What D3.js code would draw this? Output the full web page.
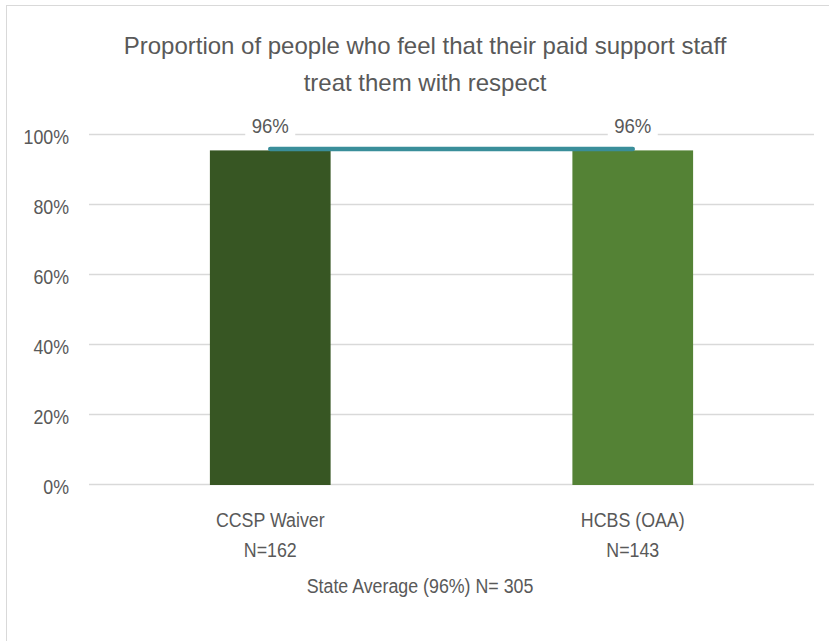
<!DOCTYPE html>
<html><head><meta charset="utf-8">
<script src="https://cdn.jsdelivr.net/npm/d3@7"></script>
<style>body{margin:0;background:#fff}svg{display:block}</style>
</head><body>
<script>
const categories = ["CCSP Waiver", "HCBS (OAA)"];
const sampleSizes = ["N=162", "N=143"];
const values = [0.956, 0.956];
const valueLabels = ["96%", "96%"];
const stateAverage = [0.96, 0.96];
const yTicks = [0, 0.2, 0.4, 0.6, 0.8, 1.0];
const titleLines = ["Proportion of people who feel that their paid support staff", "treat them with respect"];
const axisTitle = "State Average (96%) N= 305";
const barColors = ["#375623", "#548235"];

const W = 829, H = 641;
const font = "'Liberation Sans', Arial, sans-serif";
const txt = "#595959";
const SX = 0.89;
const svg = d3.select("body").append("svg").attr("width", W).attr("height", H);

svg.append("rect").attr("x", 6.5).attr("y", 5.5).attr("width", W + 20).attr("height", H + 20)
  .attr("fill", "#fff").attr("stroke", "#d9d9d9").attr("stroke-width", 1);

const x = d3.scaleBand().domain(categories).range([89, 814]).paddingInner(0.667).paddingOuter(0.3335);
const y = d3.scaleLinear().domain([0, 1]).range([485, 135]);

function label(g, tx, ty, s, anchor, size, sx) {
  return g.append("text").attr("transform", `translate(${tx},${ty}) scale(${sx},1)`)
    .text(s).attr("text-anchor", anchor).attr("fill", txt)
    .style("font-family", font).style("font-size", size + "px");
}

// gridlines
svg.append("g").selectAll("line").data(yTicks).join("line")
  .attr("x1", 89).attr("x2", 814).attr("y1", d => y(d) - 0.5).attr("y2", d => y(d) - 0.5)
  .attr("stroke", "#d9d9d9").attr("stroke-width", 1.4);

// y axis
const yAxis = d3.axisLeft(y).tickValues(yTicks).tickFormat(d3.format(".0%")).tickSize(0).tickPadding(20);
const ga = svg.append("g").attr("transform", "translate(89,0)").call(yAxis);
ga.select(".domain").remove();
ga.selectAll(".tick text").attr("x", null).attr("dy", null)
  .attr("transform", `translate(-20,8) scale(${SX},1)`)
  .attr("fill", txt).style("font-family", font).style("font-size", "20px");

// bars
svg.append("g").selectAll("rect").data(categories).join("rect")
  .attr("x", d => x(d)).attr("width", x.bandwidth())
  .attr("y", (d, i) => y(values[i])).attr("height", (d, i) => y(0) - y(values[i]))
  .attr("fill", (d, i) => barColors[i]);

// state average line
const line = d3.line().x((d, i) => x(categories[i]) + x.bandwidth() / 2).y(d => y(d));
svg.append("path").datum(stateAverage).attr("d", line)
  .attr("fill", "none").attr("stroke", "#3a8e9a").attr("stroke-width", 4.5).attr("stroke-linecap", "round");

// value labels with white background
categories.forEach((c, i) => {
  const cx = x(c) + x.bandwidth() / 2;
  svg.append("rect").attr("x", cx - 25).attr("y", 115).attr("width", 50).attr("height", 22).attr("fill", "#fff");
  label(svg, cx, 133, valueLabels[i], "middle", 20, 0.93);
  label(svg, cx, 527, c, "middle", 20, SX);
  label(svg, cx, 557, sampleSizes[i], "middle", 20, SX);
});

label(svg, 420, 593, axisTitle, "middle", 20, SX);

// title
titleLines.forEach((t, i) => label(svg, 425, 54 + i * 37, t, "middle", 24, 1.0));
</script>
</body></html>
